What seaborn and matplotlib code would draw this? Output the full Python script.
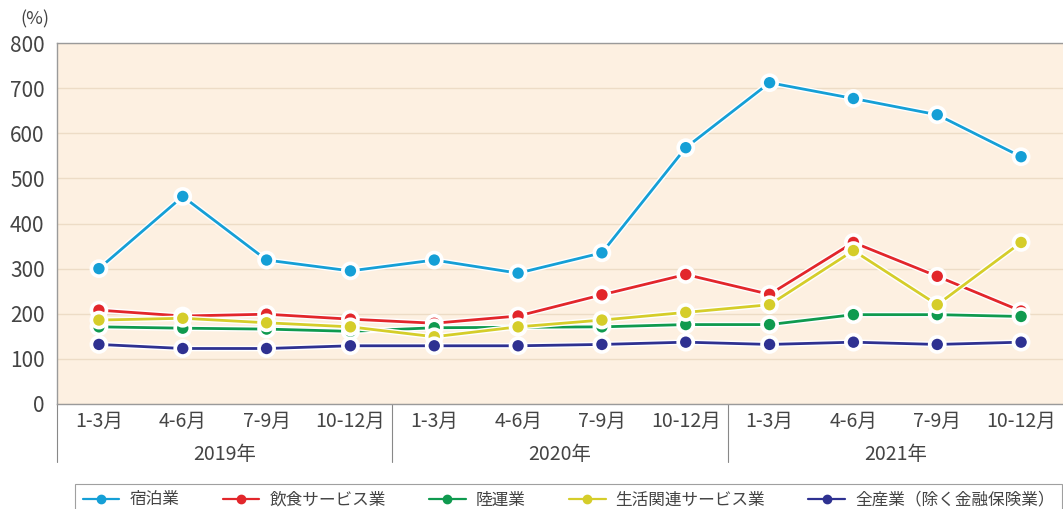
import matplotlib
matplotlib.use("Agg")
import matplotlib.pyplot as plt
import matplotlib.patheffects as pe
from matplotlib.lines import Line2D
import seaborn as sns
import pandas as pd

quarters = ["1-3月", "4-6月", "7-9月", "10-12月"]
years = ["2019年", "2020年", "2021年"]
series_names = ["宿泊業", "飲食サービス業", "陸運業", "生活関連サービス業", "全産業（除く金融保険業）"]

shukuhaku = [300, 460, 319, 295, 319, 290, 335, 568, 712, 677, 641, 548]
inshoku = [208, 195, 199, 188, 179, 195, 242, 287, 243, 358, 283, 206]
rikuun = [171, 168, 166, 161, 169, 170, 171, 176, 176, 198, 198, 194]
seikatsu = [186, 190, 180, 171, 149, 171, 186, 203, 220, 340, 220, 358]
zensangyo = [132, 123, 123, 129, 129, 129, 132, 137, 132, 137, 132, 137]

colors = ["#159fd6", "#e2262b", "#0f9a4f", "#d5cd2a", "#2e3191"]

sns.set_theme(style="white")
plt.rcParams["font.family"] = ["Noto Sans CJK JP", "DejaVu Sans"]

labels = [q for y in years for q in quarters]
rows = []
for name, vals in zip(series_names, [shukuhaku, inshoku, rikuun, seikatsu, zensangyo]):
    for i, v in enumerate(vals):
        rows.append({"pos": i, "value": v, "series": name})
df = pd.DataFrame(rows)

fig = plt.figure(figsize=(10.63, 5.09), dpi=100)
ax = fig.add_axes([57 / 1063, 1 - 404 / 509, 1 - 57 / 1063, (404 - 43) / 509])
ax.set_facecolor("#fdf0e1")

sns.lineplot(data=df, x="pos", y="value", hue="series", palette=colors,
             hue_order=series_names, marker="o", markersize=9.5, markeredgecolor="white",
             markeredgewidth=1.3, linewidth=2, legend=False, ax=ax, zorder=3)
for ln in ax.get_lines():
    ln.set_path_effects([pe.Stroke(linewidth=4, foreground="white"), pe.Normal()])

ax.set_xlim(-0.5, 11.5)
ax.set_ylim(0, 800)
ax.set_yticks(range(0, 801, 100))
ax.yaxis.grid(True, color="#eddcc6", linewidth=1)
ax.set_axisbelow(True)
ax.set_xticks(range(12))
ax.set_xticklabels(labels)
ax.tick_params(axis="both", labelsize=14, labelcolor="#444444", length=0, pad=5)
ax.tick_params(axis="y", labelsize=15, length=6, color="#888888", direction="out", pad=3)
ax.set_xlabel("")
ax.set_ylabel("")
for side in ["top", "left", "bottom"]:
    ax.spines[side].set_color("#9a9a9a")
    ax.spines[side].set_linewidth(1)
ax.spines["right"].set_visible(False)

trans = ax.get_xaxis_transform()
for xb in [-0.5, 3.5, 7.5]:
    ax.add_line(Line2D([xb, xb], [0, -0.16], transform=trans, color="#888888",
                       linewidth=0.8, clip_on=False))
for k, yr in enumerate(years):
    ax.text(k * 4 + 1.5, -0.14, yr, transform=trans, ha="center", va="center",
            fontsize=14, color="#444444")

ax.text(-0.022, 1.065, "(%)", transform=ax.transAxes, ha="center", va="center",
        fontsize=13, color="#444444")

handles = [Line2D([0], [0], color=c, linewidth=1.6, marker="o", markersize=6)
           for c in colors]
leg = fig.legend(handles, ["宿泊業", "飲食サービス業", "陸運業", "生活関連サービス業", "全産業（除く金融保険業）"],
                 loc="lower center", bbox_to_anchor=(0.535, -0.03), ncol=5, fontsize=12,
                 frameon=True, fancybox=False, edgecolor="#888888", handlelength=2.2,
                 columnspacing=2.6, handletextpad=0.6, borderpad=0.45)
leg.get_frame().set_linewidth(0.8)
for t in leg.get_texts():
    t.set_color("#444444")

fig.savefig("out.png", dpi=100)
